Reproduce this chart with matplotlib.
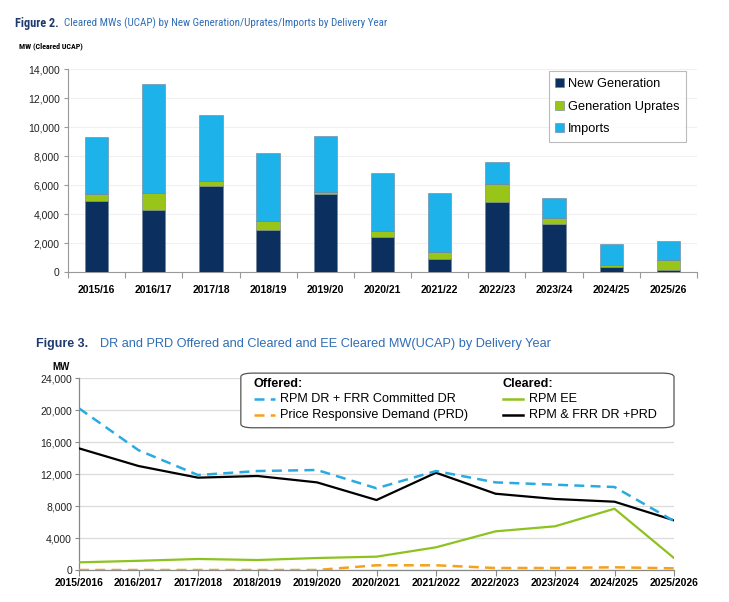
import matplotlib
matplotlib.use('Agg')
import matplotlib.pyplot as plt
from matplotlib.patches import FancyBboxPatch
from matplotlib.ticker import FuncFormatter
from matplotlib.lines import Line2D
import numpy as np

plt.rcParams['font.family'] = ['Liberation Sans', 'DejaVu Sans']
narrow = ['Roboto Condensed', 'Arial Narrow', 'Liberation Sans Narrow', 'Archivo Narrow',
          'PT Sans Narrow', 'Liberation Sans']

# Figure 2 data
bar_years = ['2015/16', '2016/17', '2017/18', '2018/19', '2019/20', '2020/21',
             '2021/22', '2022/23', '2023/24', '2024/25', '2025/26']
new_gen = [4900, 4280, 5930, 2920, 5380, 2390, 870, 4850, 3310, 320, 120]
uprates = [460, 1150, 320, 570, 160, 410, 510, 1200, 440, 160, 710]
imports = [3930, 7540, 4560, 4740, 3860, 4000, 4090, 1540, 1380, 1430, 1310]

# Figure 3 data
line_years = ['2015/2016', '2016/2017', '2017/2018', '2018/2019', '2019/2020', '2020/2021',
              '2021/2022', '2022/2023', '2023/2024', '2024/2025', '2025/2026']
dr_offered = [20240, 15000, 11890, 12390, 12520, 10230, 12390, 10970, 10680, 10390, 6130]
prd_offered = [0, 0, 0, 0, 0, 590, 590, 250, 250, 340, 210]
ee_cleared = [960, 1150, 1380, 1250, 1500, 1670, 2840, 4840, 5470, 7670, 1500]
dr_cleared = [15230, 13020, 11560, 11770, 10970, 8760, 12180, 9550, 8890, 8550, 6220]

W, H = 729, 602
fig = plt.figure(figsize=(W / 100, H / 100), dpi=100)

title_dark = '#1f3a6e'
title_blue = '#2f6db5'
comma = FuncFormatter(lambda v, p: f'{int(v):,}')

# ---------- Figure 2 ----------
fig.text(15 / W, 1 - 23 / H, 'Figure 2.', fontsize=8.8, fontweight='bold',
         color=title_dark, va='center', family=narrow)
fig.text(64 / W, 1 - 23 / H, 'Cleared MWs (UCAP) by New Generation/Uprates/Imports by Delivery Year',
         fontsize=7.9, color=title_blue, va='center', family=narrow)
fig.text(19 / W, 1 - 46 / H, 'MW (Cleared UCAP)', fontsize=5.8, fontweight='bold', va='center',
         family=narrow)

ax1 = fig.add_axes([68 / W, 1 - 272 / H, 629 / W, 203 / H])
x = np.arange(len(bar_years)) + 0.5
ax1.bar(x, new_gen, width=0.41, color='#0b2f5e', edgecolor='#6f7f95', linewidth=0.4,
        label='New Generation', zorder=3)
bot2 = np.array(new_gen)
ax1.bar(x, uprates, width=0.41, bottom=bot2, color='#99c519', edgecolor='#6f7f95',
        linewidth=0.4, label='Generation Uprates', zorder=3)
bot3 = bot2 + np.array(uprates)
ax1.bar(x, imports, width=0.41, bottom=bot3, color='#1db2ea', edgecolor='#6f7f95',
        linewidth=0.4, label='Imports', zorder=3)

ax1.set_xlim(0, len(bar_years))
ax1.set_ylim(0, 14000)
ax1.set_yticks(range(0, 14001, 2000))
ax1.yaxis.set_major_formatter(comma)
ax1.set_xticks(np.arange(len(bar_years) + 1))
ax1.set_xticklabels([])
ax1.set_xticks(x, minor=True)
ax1.set_xticklabels(bar_years, minor=True, fontsize=7.5, fontweight='bold')
ax1.tick_params(axis='x', which='major', length=4, color='#999999')
ax1.tick_params(axis='x', which='minor', length=0, pad=9)
ax1.tick_params(axis='y', length=3, color='#999999', labelsize=7.5, pad=3, labelcolor='#222222')
for s in ['top', 'right']:
    ax1.spines[s].set_visible(False)
for s in ['left', 'bottom']:
    ax1.spines[s].set_color('#999999')
    ax1.spines[s].set_linewidth(0.8)
ax1.grid(axis='y', color='#f0f0f0', linewidth=0.8, zorder=0)
ax1.set_axisbelow(True)
leg1 = ax1.legend(loc='upper right', bbox_to_anchor=(0.992, 1.02), fontsize=9.2, frameon=True,
                  fancybox=False, edgecolor='#aaaaaa', handlelength=0.7, handleheight=0.7,
                  handletextpad=0.3, labelspacing=0.85, borderpad=0.5)
leg1.get_frame().set_linewidth(0.8)

# ---------- Figure 3 ----------
fig.text(36 / W, 1 - 344 / H, 'Figure 3.', fontsize=9, fontweight='bold',
         color=title_dark, va='center')
fig.text(100 / W, 1 - 344 / H,
         'DR and PRD Offered and Cleared and EE Cleared MW(UCAP) by Delivery Year',
         fontsize=9.2, color=title_blue, va='center')
fig.text(52 / W, 1 - 367 / H, 'MW', fontsize=7, fontweight='bold', va='center')

ax2 = fig.add_axes([79 / W, 1 - 570 / H, 595 / W, 191.7 / H])
xl = np.arange(len(line_years))
ax2.plot(xl, ee_cleared, color='#8dc21f', linewidth=1.6, zorder=3)
ax2.plot(xl, prd_offered, color='#f7a11a', linewidth=1.8, dashes=(4, 2.5), zorder=3)
ax2.plot(xl, dr_cleared, color='black', linewidth=1.6, zorder=4)
ax2.plot(xl, dr_offered, color='#29abe2', linewidth=1.8, dashes=(4, 2.5), zorder=5)

ax2.set_xlim(0, len(line_years) - 1)
ax2.set_ylim(0, 24000)
ax2.set_yticks(range(0, 24001, 4000))
ax2.yaxis.set_major_formatter(comma)
ax2.set_xticks(xl)
ax2.set_xticklabels(line_years, fontsize=7.5, fontweight='bold')
ax2.tick_params(axis='x', length=4, color='#888888', pad=2)
ax2.tick_params(axis='y', length=3, color='#888888', labelsize=7.5, pad=2, labelcolor='#222222')
for s in ['top', 'right']:
    ax2.spines[s].set_visible(False)
for s in ['left', 'bottom']:
    ax2.spines[s].set_color('#888888')
    ax2.spines[s].set_linewidth(0.9)
ax2.grid(axis='y', color='#dcdcdc', linewidth=0.9, zorder=0)
ax2.set_axisbelow(True)

# hand-built two-column legend
box = FancyBboxPatch((0.272, 0.742), 0.728, 0.285, boxstyle='round,pad=0,rounding_size=0.02',
                     transform=ax2.transAxes, facecolor='white', edgecolor='#555555',
                     linewidth=0.9, clip_on=False, zorder=6)
ax2.add_patch(box)
fs = 9.1
ax2.text(0.294, 0.972, 'Offered:', transform=ax2.transAxes, fontsize=fs, fontweight='bold',
         va='center', zorder=7)
ax2.text(0.712, 0.972, 'Cleared:', transform=ax2.transAxes, fontsize=fs, fontweight='bold',
         va='center', zorder=7)
entries = [
    (0.294, 0.890, '#29abe2', (4, 2.5), 'RPM DR + FRR Committed DR'),
    (0.294, 0.808, '#f7a11a', (4, 2.5), 'Price Responsive Demand (PRD)'),
    (0.712, 0.890, '#8dc21f', None, 'RPM EE'),
    (0.712, 0.808, 'black', None, 'RPM & FRR DR +PRD'),
]
for x0, y0, c, d, lab in entries:
    ln = Line2D([x0, x0 + 0.035], [y0, y0], transform=ax2.transAxes, color=c,
                linewidth=1.8, clip_on=False, zorder=7)
    if d:
        ln.set_dashes(d)
    ax2.add_line(ln)
    ax2.text(x0 + 0.044, y0, lab, transform=ax2.transAxes, fontsize=fs, va='center', zorder=7)

fig.savefig('out.png', dpi=100, facecolor='white')
